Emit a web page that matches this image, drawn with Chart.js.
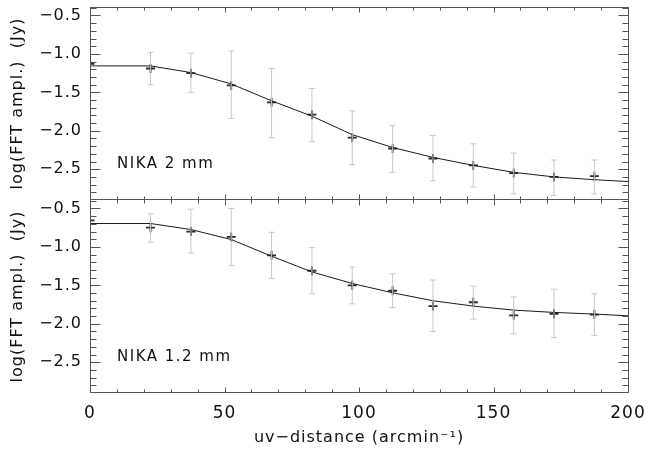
<!DOCTYPE html>
<html>
<head>
<meta charset="utf-8">
<script src="https://cdn.jsdelivr.net/npm/chart.js@4.4.1/dist/chart.umd.min.js"></script>
<style>
  body { margin: 0; background: #fff; width: 649px; height: 452px; position: relative; overflow: hidden; }
  #top { position: absolute; left: 0; top: 0; width: 649px; height: 200px; }
  #bottom { position: absolute; left: 0; top: 200px; width: 649px; height: 252px; }
</style>
</head>
<body>
<div id="top"><canvas id="c1"></canvas></div>
<div id="bottom"><canvas id="c2"></canvas></div>
<script>
// uv-distance bins (arcmin^-1)
const uvDist = [0, 22.5, 37.5, 52.5, 67.5, 82.5, 97.5, 112.5, 127.5, 142.5, 157.5, 172.5, 187.5];

// NIKA 2 mm : log(FFT ampl.) and error bar ends
const amp2mm = [-1.13, -1.19, -1.25, -1.41, -1.63, -1.79, -2.09, -2.23, -2.36, -2.45, -2.55, -2.60, -2.59];
const hi2mm  = [-1.10, -0.98, -0.99, -0.96, -1.19, -1.45, -1.74, -1.93, -2.06, -2.17, -2.29, -2.38, -2.38];
const lo2mm  = [-1.16, -1.40, -1.50, -1.84, -2.09, -2.14, -2.44, -2.54, -2.65, -2.73, -2.82, -2.84, -2.82];

// NIKA 1.2 mm
const amp1mm = [-0.655, -0.75, -0.80, -0.87, -1.11, -1.31, -1.50, -1.57, -1.77, -1.72, -1.89, -1.87, -1.88];
const hi1mm  = [-0.60, -0.57, -0.51, -0.50, -0.81, -1.01, -1.26, -1.35, -1.43, -1.51, -1.65, -1.55, -1.61];
const lo1mm  = [-0.71, -0.94, -1.08, -1.24, -1.41, -1.61, -1.74, -1.79, -2.10, -1.94, -2.13, -2.18, -2.15];

// model curves
const modelX    = [0, 22.5, 37.5, 52.5, 67.5, 82.5, 97.5, 112.5, 127.5, 142.5, 157.5, 172.5, 187.5, 200];
const model2mm  = [-1.156, -1.156, -1.243, -1.39, -1.61, -1.81, -2.05, -2.217, -2.346, -2.45, -2.54, -2.60, -2.636, -2.66];
const model1mm  = [-0.696, -0.696, -0.774, -0.904, -1.121, -1.325, -1.476, -1.597, -1.70, -1.77, -1.822, -1.852, -1.874, -1.896];

const xTicks = [0, 50, 100, 150, 200];
const yTicks = [-2.5, -2.0, -1.5, -1.0, -0.5];
const xMin = 0, xMax = 200, yMin = -2.9, yMax = -0.39;

const FONT = "'DejaVu Sans', sans-serif";
const FRAME = '#555';

const fmt = v => (v < 0 ? '\u2212' : '') + Math.abs(v).toFixed(1);

// IDL style frame with inward ticks + panel label
const idlFrame = {
  id: 'idlFrame',
  beforeDraw(chart) {
    chart.ctx.letterSpacing = '1px';
  },
  afterDatasetsDraw(chart, args, opts) {
    const { ctx, chartArea: a, scales: { x, y } } = chart;
    ctx.save();
    ctx.strokeStyle = FRAME;
    ctx.lineWidth = 1;
    const L = Math.round(a.left) + 0.5, R = Math.round(a.right) + 0.5;
    const T = Math.round(a.top) + 0.5, B = Math.round(a.bottom) - 0.5;
    ctx.beginPath();
    // top edge only for the upper panel, the lower one shares it
    if (opts.topEdge) { ctx.moveTo(L, T); ctx.lineTo(R, T); }
    ctx.moveTo(R, T - 0.5); ctx.lineTo(R, B);
    ctx.lineTo(L, B);
    ctx.lineTo(L, T - 0.5);
    for (let v = xMin; v <= xMax; v += 10) {
      const px = Math.round(x.getPixelForValue(v)) + 0.5;
      const len = v % 50 === 0 ? 5 : 3;
      ctx.moveTo(px, B); ctx.lineTo(px, B - len);
      ctx.moveTo(px, T - 0.5); ctx.lineTo(px, T + len);
    }
    for (let k = -28; k <= -4; k++) {
      const v = k / 10;
      const py = Math.round(y.getPixelForValue(v)) + 0.5;
      const len = k % 5 === 0 ? 10 : 6;
      ctx.moveTo(L, py); ctx.lineTo(L + len, py);
      ctx.moveTo(R, py); ctx.lineTo(R - len, py);
    }
    ctx.stroke();
    ctx.fillStyle = '#111';
    ctx.font = '15px ' + FONT;
    ctx.letterSpacing = '1.5px';
    ctx.textBaseline = 'middle';
    ctx.fillText(opts.label, a.left + 27, a.top + 157);
    ctx.restore();
  }
};

function errPoints(lo, hi) {
  const pts = [];
  uvDist.forEach((u, i) => {
    pts.push({ x: u, y: lo[i] }, { x: u, y: hi[i] }, { x: u, y: null });
  });
  return pts;
}

function makePanel(canvas, amp, lo, hi, model, label, showX) {
  return new Chart(canvas, {
    type: 'scatter',
    data: {
      datasets: [
        {
          label: 'error',
          type: 'line',
          data: errPoints(lo, hi),
          borderColor: '#c8c8c8',
          borderWidth: 1,
          pointStyle: 'line',
          pointRadius: 3,
          pointBorderColor: '#c8c8c8',
          pointBorderWidth: 1,
          spanGaps: false,
          tension: 0
        },
        {
          label: 'model',
          type: 'line',
          data: modelX.map((u, i) => ({ x: u, y: model[i] })),
          borderColor: '#1a1a1a',
          borderWidth: 1,
          pointRadius: 0,
          tension: 0
        },
        {
          label: 'data',
          data: uvDist.map((u, i) => ({ x: u, y: amp[i] })),
          pointStyle: 'cross',
          pointRadius: 4.5,
          pointBorderColor: '#2a2a2a',
          pointBorderWidth: 1.8
        }
      ]
    },
    options: {
      responsive: true,
      maintainAspectRatio: false,
      animation: false,
      layout: { autoPadding: false, padding: { top: showX ? 0 : 7, right: 21, left: 0, bottom: 0 } },
      plugins: {
        legend: { display: false },
        tooltip: { enabled: false },
        idlFrame: { label: label, topEdge: !showX }
      },
      scales: {
        x: {
          type: 'linear',
          display: showX,
          min: xMin, max: xMax,
          grid: { display: false, drawTicks: false },
          border: { display: false },
          afterBuildTicks: s => { s.ticks = xTicks.map(v => ({ value: v })); },
          afterFit: s => {
            s.height = showX ? 59 : 0;
            s.paddingLeft = 0; s.paddingRight = 0; s.paddingTop = 0; s.paddingBottom = 0;
          },
          ticks: { color: '#111', font: { family: FONT, size: 17 }, padding: 10, maxRotation: 0 },
          title: {
            display: true,
            text: 'uv\u2212distance (arcmin\u207B\u00B9)',
            color: '#111',
            font: { family: FONT, size: 16 },
            padding: { top: 0, bottom: 5 }
          }
        },
        y: {
          min: yMin, max: yMax,
          grid: { display: false, drawTicks: false },
          border: { display: false },
          afterBuildTicks: s => { s.ticks = yTicks.map(v => ({ value: v })); },
          afterFit: s => {
            s.width = 90;
            s.paddingLeft = 0; s.paddingRight = 0; s.paddingTop = 0; s.paddingBottom = 0;
          },
          ticks: { color: '#111', font: { family: FONT, size: 16 }, padding: 8, callback: v => fmt(v) },
          title: {
            display: true,
            text: 'log(FFT ampl.)  (Jy)',
            color: '#111',
            font: { family: FONT, size: 16 },
            padding: { top: 8, bottom: 0 }
          }
        }
      }
    },
    plugins: [idlFrame]
  });
}

makePanel(document.getElementById('c1'), amp2mm, lo2mm, hi2mm, model2mm, 'NIKA 2 mm', false);
makePanel(document.getElementById('c2'), amp1mm, lo1mm, hi1mm, model1mm, 'NIKA 1.2 mm', true);
</script>
</body>
</html>
